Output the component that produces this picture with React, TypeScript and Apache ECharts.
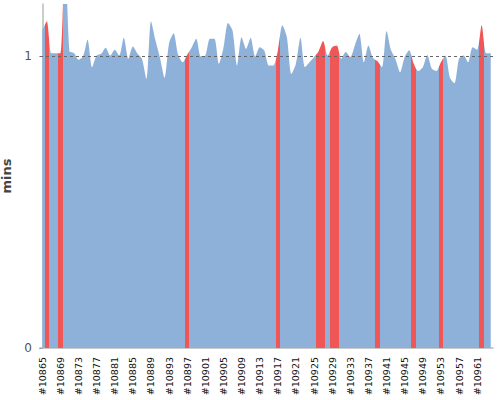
import React, { useEffect, useRef } from 'react';
import * as echarts from 'echarts';

const firstBuild = 10865;
const buildCount = 100;
const builds: string[] = Array.from({ length: buildCount }, (_, i) => '#' + (firstBuild + i));

const minutes: number[] = [
  1.089, 1.121, 1.011, 1.011, 1.011, 1.37, 1.018, 1.012, 0.989, 1.0,
  1.057, 0.963, 1.003, 1.009, 1.03, 1.003, 1.023, 1.003, 1.064, 0.992,
  1.034, 1.01, 0.992, 0.923, 1.121, 1.055, 0.995, 0.927, 1.046, 1.08,
  1.006, 0.98, 1.006, 1.032, 1.061, 1.0, 1.003, 1.061, 1.061, 0.975,
  1.03, 1.115, 1.089, 0.969, 1.066, 1.026, 1.064, 1.0, 1.032, 1.021,
  0.969, 0.969, 1.02, 1.107, 1.066, 0.94, 0.975, 1.064, 0.963, 0.98,
  0.998, 1.018, 1.053, 1.003, 1.032, 1.038, 0.992, 1.015, 0.998, 1.038,
  1.078, 0.98, 1.038, 0.995, 0.984, 0.963, 1.087, 1.021, 0.99, 0.946,
  0.998, 1.021, 0.975, 0.95, 0.963, 1.005, 0.958, 0.95, 0.98, 1.003,
  0.927, 0.908, 0.992, 1.003, 0.98, 1.032, 1.023, 1.107, 1.011, 1.011,
];

// indices of builds highlighted in red
const highlighted: number[] = [1, 4, 32, 52, 61, 62, 64, 65, 74, 82, 88, 97];

const yTicks: number[] = [0, 1];
const referenceLine = 1;

const BLUE = '#8EB1DA';
const RED = '#F05656';

export default function App() {
  const ref = useRef<HTMLDivElement>(null);
  useEffect(() => {
    const chart = echarts.init(ref.current!, null, { renderer: 'svg' });
    chart.setOption({
      animation: false,
      backgroundColor: '#ffffff',
      grid: { left: 40, right: 7, top: 4, bottom: 52, containLabel: false, outerBoundsMode: 'none' },
      xAxis: [
        {
          type: 'category',
          data: builds,
          boundaryGap: true,
          axisLine: { lineStyle: { color: '#bbbbbb', width: 1.5 } },
          axisTick: { interval: 0, length: 4, lineStyle: { color: '#bbbbbb' } },
          axisLabel: {
            interval: 3,
            rotate: 90,
            fontSize: 9.5,
            color: '#111111',
            fontFamily: 'DejaVu Sans',
            margin: 9,
          },
          splitLine: { show: false },
        },
        {
          type: 'value',
          min: -0.5,
          max: buildCount - 0.5,
          show: false,
          position: 'top',
          splitLine: { show: false },
        },
      ],
      yAxis: {
        type: 'value',
        min: 0,
        max: 1.18,
        interval: 1,
        name: 'mins',
        nameLocation: 'middle',
        nameGap: 27,
        nameTextStyle: { fontSize: 13, fontWeight: 'bold', color: '#444444', fontFamily: 'DejaVu Sans' },
        axisLine: { show: true, lineStyle: { color: '#bbbbbb', width: 1.5 } },
        axisTick: { show: true, length: 3, customValues: yTicks, lineStyle: { color: '#999999' } },
        axisLabel: { customValues: yTicks, fontSize: 12, color: '#555555', margin: 8, fontFamily: 'DejaVu Sans' },
        splitLine: { show: false },
      },
      visualMap: {
        show: false,
        type: 'piecewise',
        dimension: 0,
        seriesIndex: 0,
        pieces: highlighted.map((i) => ({ gte: i - 0.5, lt: i + 0.5, color: RED })),
        outOfRange: { color: BLUE },
      },
      series: [
        {
          type: 'line',
          xAxisIndex: 1,
          yAxisIndex: 0,
          data: minutes.map((v, i) => [i, v]),
          showSymbol: false,
          smooth: 0.25,
          lineStyle: { width: 0, opacity: 0 },
          areaStyle: { opacity: 1 },
          markLine: {
            silent: true,
            symbol: 'none',
            label: { show: false },
            lineStyle: { color: '#666666', type: [3, 3], width: 1 },
            data: [{ yAxis: referenceLine }],
          },
        },
      ],
    });
    return () => chart.dispose();
  }, []);
  return <div ref={ref} style={{ position: 'fixed', left: 0, top: 0, width: 500, height: 400 }} />;
}
